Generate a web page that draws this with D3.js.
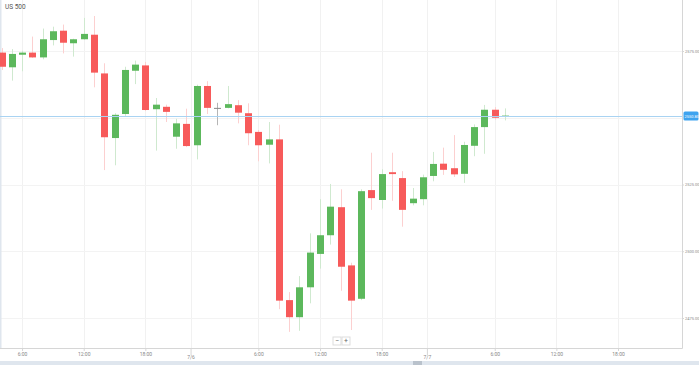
<!DOCTYPE html>
<html lang="en">
<head>
    <meta charset="UTF-8">
    <title>US 500</title>
    <script src="https://d3js.org/d3.v7.min.js"></script>
    <style>
        body { margin: 0; background: #fff; font-family: 'Roboto', sans-serif; }
        svg { display: block; }
    </style>
</head>
<body>
<div id="chart"></div>
<script>
    // Hourly candles (index 0 = first visible bar)
    const opens  = [2574.4, 2568.9, 2573.6, 2574.4, 2572.6, 2579.1, 2582.6, 2577.9, 2579.4, 2581.1,
                    2566.6, 2542.4, 2551.4, 2567.6, 2569.6, 2553.2, 2554.1, 2542.9, 2547.7, 2539.7,
                    2561.9, 2553.7, 2553.7, 2554.7, 2551.7, 2544.7, 2539.9, 2541.9, 2481.7, 2475.3,
                    2486.5, 2499.0, 2506.0, 2516.5, 2494.7, 2482.2, 2522.9, 2519.2, 2529.6, 2527.4,
                    2518.0, 2519.5, 2528.2, 2532.8, 2531.1, 2529.0, 2539.5, 2546.5, 2553.0, 2550.3];
    const highs  = [2576.1, 2575.7, 2575.1, 2580.4, 2583.4, 2584.1, 2584.9, 2579.6, 2587.4, 2588.1,
                    2570.4, 2551.7, 2569.1, 2571.4, 2570.9, 2557.4, 2554.9, 2549.6, 2553.4, 2562.4,
                    2563.7, 2555.6, 2561.9, 2556.6, 2555.4, 2545.4, 2548.4, 2547.4, 2484.7, 2490.7,
                    2506.7, 2519.5, 2525.2, 2523.2, 2495.7, 2523.2, 2536.9, 2530.7, 2536.9, 2530.0,
                    2523.7, 2528.7, 2537.2, 2538.8, 2543.5, 2541.0, 2547.5, 2554.8, 2554.0, 2553.5];
    const lows   = [2567.9, 2563.9, 2567.4, 2572.4, 2571.9, 2577.1, 2574.1, 2572.9, 2579.2, 2561.4,
                    2530.4, 2532.2, 2550.7, 2562.6, 2552.5, 2537.7, 2548.4, 2538.4, 2539.0, 2534.4,
                    2551.4, 2547.2, 2553.5, 2547.9, 2539.7, 2533.7, 2532.9, 2478.3, 2469.8, 2470.2,
                    2480.5, 2493.5, 2502.5, 2485.2, 2470.5, 2481.7, 2515.5, 2516.0, 2518.9, 2509.2,
                    2517.2, 2517.2, 2526.2, 2528.6, 2527.8, 2525.6, 2535.6, 2536.5, 2549.3, 2549.0];
    const closes = [2569.1, 2573.9, 2574.4, 2572.6, 2579.4, 2582.4, 2578.1, 2579.4, 2581.4, 2566.9,
                    2542.7, 2551.1, 2567.9, 2569.9, 2552.9, 2554.9, 2552.2, 2547.9, 2539.4, 2561.9,
                    2553.7, 2553.7, 2555.1, 2551.9, 2544.2, 2539.7, 2541.9, 2481.5, 2475.3, 2486.5,
                    2499.5, 2506.0, 2516.7, 2494.2, 2481.5, 2522.5, 2519.9, 2528.9, 2528.9, 2515.5,
                    2519.7, 2527.7, 2532.7, 2530.5, 2528.8, 2539.8, 2546.5, 2553.0, 2550.0, 2550.8];

    // Axis labels (time ticks sit on candle index, dates at day breaks)
    const timeTicks  = [2, 8, 14, 25, 31, 37, 48, 54, 60];
    const timeLabels = ["6:00", "12:00", "18:00", "6:00", "12:00", "18:00", "6:00", "12:00", "18:00"];
    const dateTicks  = [18.4, 41.4];
    const dateLabels = ["7/6", "7/7"];
    const priceTicks = [2475, 2500, 2525, 2575];
    const lastPrice  = closes[closes.length - 1];

    const width = 699, height = 365;
    const plotRight = 682, plotBottom = 348;

    const candles = opens.map((o, i) => ({ i, o, h: highs[i], l: lows[i], c: closes[i] }));

    const svg = d3.select("#chart").append("svg")
        .attr("width", width)
        .attr("height", height);

    const x = d3.scaleLinear().domain([0, 49]).range([1.5, 505]);
    const y = d3.scaleLinear().domain([2475, 2575]).range([318, 51]);

    const color = d => d.c > d.o ? "#5cb85c" : d.c < d.o ? "#f75a5a" : "#8a8a8a";
    const wickColor = d => d.c > d.o ? "#cfe9cf" : d.c < d.o ? "#fcd0d0" : "#b5b5b5";

    // grid
    const grid = svg.append("g");
    grid.selectAll(".vg")
        .data(timeTicks.concat(dateTicks))
        .join("line")
        .attr("x1", d => Math.round(x(d)) + 0.5)
        .attr("x2", d => Math.round(x(d)) + 0.5)
        .attr("y1", 0).attr("y2", plotBottom)
        .attr("stroke", "#f1f1f1");
    grid.selectAll(".hg")
        .data(priceTicks.concat([2550]))
        .join("line")
        .attr("x1", 0).attr("x2", plotRight)
        .attr("y1", d => Math.round(y(d)) + 0.5)
        .attr("y2", d => Math.round(y(d)) + 0.5)
        .attr("stroke", "#f3f3f3");

    // frame
    svg.append("rect").attr("x", 0).attr("y", 0).attr("width", 1.5).attr("height", plotBottom)
        .attr("fill", "#dfe6ee");
    svg.append("line").attr("x1", plotRight + 0.5).attr("x2", plotRight + 0.5)
        .attr("y1", 0).attr("y2", plotBottom + 0.5).attr("stroke", "#d6d6d6");
    svg.append("line").attr("x1", 0).attr("x2", plotRight + 0.5)
        .attr("y1", plotBottom + 0.5).attr("y2", plotBottom + 0.5).attr("stroke", "#d6d6d6");

    // candles
    const cg = svg.append("g");
    cg.selectAll(".wick")
        .data(candles)
        .join("line")
        .attr("x1", d => Math.round(x(d.i)) + 0.5)
        .attr("x2", d => Math.round(x(d.i)) + 0.5)
        .attr("y1", d => y(d.h))
        .attr("y2", d => y(d.l))
        .attr("stroke", wickColor);
    cg.selectAll(".body")
        .data(candles)
        .join("rect")
        .attr("x", d => Math.round(x(d.i)) - 3)
        .attr("width", 7)
        .attr("y", d => y(Math.max(d.o, d.c)))
        .attr("height", d => Math.max(1, y(Math.min(d.o, d.c)) - y(Math.max(d.o, d.c))))
        .attr("fill", color);

    // current price line
    svg.append("line")
        .attr("x1", 0).attr("x2", plotRight)
        .attr("y1", Math.round(y(lastPrice)) + 0.5)
        .attr("y2", Math.round(y(lastPrice)) + 0.5)
        .attr("stroke", "#a9d3f2");

    // right axis
    const yAxis = svg.append("g")
        .attr("transform", `translate(${plotRight},0)`)
        .call(d3.axisRight(y).tickValues(priceTicks).tickFormat(d3.format(".2f")).tickSize(2));
    yAxis.select(".domain").remove();
    yAxis.selectAll("line").attr("stroke", "#d6d6d6");
    yAxis.selectAll("text").attr("font-size", 4).attr("fill", "#888").attr("x", 3)
        .attr("font-family", "Roboto, sans-serif");

    const ly = Math.round(y(lastPrice));
    svg.append("rect").attr("x", plotRight + 1.5).attr("y", ly - 4.5).attr("width", 15).attr("height", 9)
        .attr("rx", 1.5).attr("fill", "#3ea3ef");
    svg.append("text").attr("x", plotRight + 2.5).attr("y", ly + 1.5)
        .attr("font-size", 4).attr("fill", "#fff")
        .text(d3.format(".2f")(lastPrice));

    // bottom axis
    const xAxis = svg.append("g")
        .attr("transform", `translate(0,${plotBottom})`)
        .call(d3.axisBottom(x).tickValues(timeTicks).tickSize(3)
            .tickFormat((d, k) => timeLabels[k]));
    xAxis.select(".domain").remove();
    xAxis.selectAll("line").attr("stroke", "#d6d6d6");
    xAxis.selectAll("text").attr("font-size", 5).attr("fill", "#888").attr("dy", "0.3em")
        .attr("font-family", "Roboto, sans-serif");

    const dAxis = svg.append("g")
        .attr("transform", `translate(0,${plotBottom})`)
        .call(d3.axisBottom(x).tickValues(dateTicks).tickSize(7)
            .tickFormat((d, k) => dateLabels[k]));
    dAxis.select(".domain").remove();
    dAxis.selectAll("line").attr("stroke", "#d6d6d6");
    dAxis.selectAll("text").attr("font-size", 5).attr("fill", "#888").attr("dy", "0.1em")
        .attr("font-family", "Roboto, sans-serif");

    // zoom buttons
    const zb = svg.append("g").attr("transform", "translate(333,337)");
    ["\u2212", "+"].forEach((s, k) => {
        zb.append("rect").attr("x", k * 9).attr("y", 0).attr("width", 8).attr("height", 8)
            .attr("fill", "#fff").attr("stroke", "#ddd");
        zb.append("text").attr("x", k * 9 + 4).attr("y", 6.3).attr("text-anchor", "middle")
            .attr("font-size", 7).attr("fill", "#666").text(s);
    });

    // scrollbar strip
    svg.append("rect").attr("x", 0).attr("y", 361).attr("width", width).attr("height", 4)
        .attr("fill", "#dfe6ee");
    svg.append("rect").attr("x", 413).attr("y", 361).attr("width", 9).attr("height", 4)
        .attr("fill", "#b9c2cc");

    // title
    svg.append("text").attr("x", 5).attr("y", 9)
        .attr("font-size", 6.5).attr("fill", "#555")
        .text("US 500");
</script>
</body>
</html>
